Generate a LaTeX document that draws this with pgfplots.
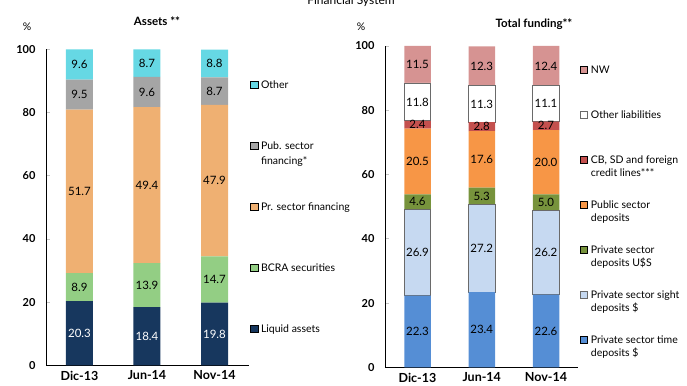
\documentclass[border=0pt]{standalone}
\usepackage{fontspec}
\setmainfont{Lato}
\usepackage{pgfplots}
\pgfplotsset{compat=1.18}

% asset side
\definecolor{cOther}{HTML}{66D8E4}
\definecolor{cPub}{HTML}{A5A5A5}
\definecolor{cPriv}{HTML}{EFB072}
\definecolor{cBcra}{HTML}{93CE84}
\definecolor{cLiq}{HTML}{17375E}
% funding side
\definecolor{cNW}{HTML}{D69392}
\definecolor{cCB}{HTML}{C4504E}
\definecolor{cPubDep}{HTML}{F79646}
\definecolor{cUSD}{HTML}{77933C}
\definecolor{cSight}{HTML}{C6D9F1}
\definecolor{cTime}{HTML}{558ED5}
\definecolor{cEdge}{HTML}{6A6A6A}

% legend entry, aligned on its first line
\newcommand\entry[1]{\parbox[t]{4.4cm}{\raggedright\strut #1}}

\pgfplotsset{
  stackbase/.style={
    ybar stacked, scale only axis, enlargelimits=false,
    ymin=0, ymax=100, ytick={0,20,40,60,80,100},
    xtick={0,1,2}, xticklabels={Dic-13,Jun-14,Nov-14},
    axis x line*=bottom, axis y line*=left,
    axis line style={black, line width=0.9pt},
    tick align=inside, major tick length=4pt,
    ytick style={gray!45, line width=0.6pt},
    xtick style={draw=none},
    /pgf/number format/assume math mode=true,
    yticklabel style={font=\fontsize{11}{12}\selectfont\bfseries, xshift=-7pt},
    xticklabel style={font=\fontsize{12.5}{14}\selectfont\bfseries, yshift=-2pt},
    nodes near coords={\pgfmathprintnumber[fixed,fixed zerofill,precision=1]{\pgfplotspointmeta}},
    every node near coord/.append style={
      font=\fontsize{11.5}{12}\selectfont, anchor=center, text=black},
    reverse legend,
    legend style={draw=none, fill=none, inner sep=0pt, outer sep=0pt,
      anchor=north west, row sep=0pt, column sep=3pt,
      cells={anchor=base west}},
    legend image code/.code={\draw[#1, line width=0.5pt] (0pt,0pt) rectangle (7.5pt,7.5pt);},
  },
}

\begin{document}
\begin{tikzpicture}
\useasboundingbox (0,0) rectangle (687pt,385pt);

\node[anchor=base, font=\fontsize{12}{14}\selectfont] at (351pt,380pt) {Financial System};

% ---------------- Assets ----------------
\node[font=\fontsize{11.5}{13}\selectfont\bfseries] at (157pt,364pt) {Assets **};
\node[font=\fontsize{10.5}{12}\selectfont] at (27pt,358pt) {\%};
\begin{axis}[stackbase,
  at={(46pt,19.7pt)}, anchor=south west,
  width=203pt, height=316pt,
  xmin=-0.496, xmax=2.511, bar width=27pt,
  legend style={at={(1.005,0.909)}, font=\fontsize{10.5}{15}\selectfont,
    nodes={inner sep=0pt, anchor=base west, text height=10.5pt, text depth=50.5pt}},
]
\addplot[fill=cLiq, draw=none, every node near coord/.append style={text=white}]
  coordinates {(0,20.3) (1,18.4) (2,19.8)};
\addlegendentry{\entry{Liquid assets}}
\addplot[fill=cBcra, draw=none] coordinates {(0,8.9) (1,13.9) (2,14.7)};
\addlegendentry{\entry{BCRA securities}}
\addplot[fill=cPriv, draw=none] coordinates {(0,51.7) (1,49.4) (2,47.9)};
\addlegendentry{\entry{Pr. sector financing}}
\addplot[fill=cPub, draw=none] coordinates {(0,9.5) (1,9.6) (2,8.7)};
\addlegendentry{\entry{Pub. sector\\financing*}}
\addplot[fill=cOther, draw=none] coordinates {(0,9.6) (1,8.7) (2,8.8)};
\addlegendentry{\entry{Other}}
\end{axis}

% ---------------- Total funding ----------------
\node[font=\fontsize{11.5}{13}\selectfont\bfseries] at (534pt,361pt) {Total funding**};
\node[font=\fontsize{10.5}{12}\selectfont] at (361pt,358pt) {\%};
\begin{axis}[stackbase,
  at={(385pt,17.7pt)}, anchor=south west,
  width=193pt, height=321.3pt,
  xmin=-0.506, xmax=2.498, bar width=26.5pt,
  legend style={at={(1.010,0.944)}, font=\fontsize{10.5}{13.5}\selectfont,
    nodes={inner sep=0pt, anchor=base west, text height=9.45pt, text depth=35.55pt}},
]
\addplot[fill=cTime, draw=none] coordinates {(0,22.3) (1,23.4) (2,22.6)};
\addlegendentry{\entry{Private sector time\\deposits \$}}
\addplot[fill=cSight, draw=cEdge, line width=0.8pt] coordinates {(0,26.9) (1,27.2) (2,26.2)};
\addlegendentry{\entry{Private sector sight\\deposits \$}}
\addplot[fill=cUSD, draw=none] coordinates {(0,4.6) (1,5.3) (2,5.0)};
\addlegendentry{\entry{Private sector\\deposits U\$S}}
\addplot[fill=cPubDep, draw=none] coordinates {(0,20.5) (1,17.6) (2,20.0)};
\addlegendentry{\entry{Public sector\\deposits}}
\addplot[fill=cCB, draw=none] coordinates {(0,2.4) (1,2.8) (2,2.7)};
\addlegendentry{\entry{CB, SD and foreign\\credit lines***}}
\addplot[fill=white, draw=cEdge, line width=0.8pt] coordinates {(0,11.8) (1,11.3) (2,11.1)};
\addlegendentry{\entry{Other liabilities}}
\addplot[fill=cNW, draw=none] coordinates {(0,11.5) (1,12.3) (2,12.4)};
\addlegendentry{\entry{NW}}
\end{axis}
\end{tikzpicture}
\end{document}
